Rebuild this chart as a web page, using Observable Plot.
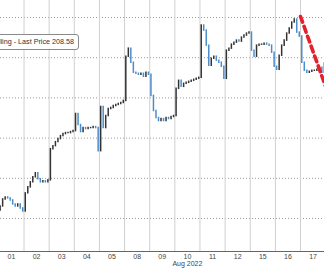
<!DOCTYPE html>
<html><head><meta charset="utf-8">
<script src="https://cdn.jsdelivr.net/npm/d3@7"></script>
<script src="https://cdn.jsdelivr.net/npm/@observablehq/plot@0.6"></script>
<style>
html,body{margin:0;padding:0;background:#fff;}
#wrap{position:relative;width:324px;height:268px;overflow:hidden;}
#label{position:absolute;left:-6px;top:34px;width:85px;height:16px;box-sizing:border-box;border:1px solid #8a8a8a;border-radius:3px;background:#fff;font:7.2px "Liberation Sans",Arial,sans-serif;color:#333;text-align:right;padding-right:4px;line-height:14px;white-space:nowrap;overflow:hidden;}
</style></head>
<body><div id="wrap"><div id="label">lling - Last Price 208.58</div></div>
<script>
// Day labels (Aug 2022 trading days)
const days = ["01","02","03","04","05","08","09","10","11","12","15","16","17"];
const monthLabel = "Aug 2022";

// Closing prices of the intraday bars, 10 per day
const firstOpen = 172.0;
const d01 = [173.0,174.75,175.25,175.0,174.5,173.5,173.0,173.5,172.5,171.75];
const d02 = [176.25,177.75,179.0,180.25,181.25,179.75,179.0,179.25,179.0,179.5];
const d03 = [187.25,188.0,189.0,189.75,190.5,191.0,191.25,191.25,191.5,191.75];
const d04 = [196.0,193.25,191.5,192.5,192.25,192.5,192.5,192.75,192.5,186.75];
const d05 = [197.75,192.5,195.5,197.25,197.5,198.0,198.25,198.5,198.75,199.25];
const d08 = [210.25,212.25,208.75,206.25,206.0,205.75,206.0,205.25,206.25,205.75];
const d09 = [200.5,196.75,195.0,194.25,194.75,194.25,195.0,194.75,195.25,195.5];
const d10 = [202.25,204.25,202.75,203.5,203.75,204.0,204.25,204.5,204.75,205.0];
const d11 = [218.0,216.75,213.0,208.0,209.75,210.25,209.25,208.75,207.75,204.75];
const d12 = [211.75,212.25,213.25,213.75,214.25,214.0,215.0,215.5,216.0,216.25];
const d15 = [211.75,210.25,213.0,213.25,213.25,213.5,213.25,213.0,211.25,207.75];
const d16 = [207.0,210.5,213.0,214.25,216.0,217.25,218.75,219.5,216.25,215.25];
const d17 = [208.75,206.75,206.25,206.5,206.75,206.75,207.0,207.5,206.25,208.58];
const closesByDay = [d01,d02,d03,d04,d05,d08,d09,d10,d11,d12,d15,d16,d17];

// Price gridlines and the red trend line (day-index, price)
const gridPrices = [170,180,190,200,210,220];
const trendT = [12.0, 13.2];
const trendP = [220.25, 199.3];

const bars = [];
let prev = firstOpen;
closesByDay.forEach((arr, d) => {
  arr.forEach((c, i) => {
    bars.push({t: d + (i + 0.5) / arr.length, open: prev, close: c, up: c >= prev});
    prev = c;
  });
});
const trend = trendT.map((t, i) => ({t, p: trendP[i]}));

const chart = Plot.plot({
  width: 324, height: 268,
  marginTop: 0, marginBottom: 17, marginLeft: 0, marginRight: 0,
  style: {fontFamily: "'Liberation Sans', Arial, sans-serif", background: "#fff"},
  x: {domain: [0.065, 12.954], axis: null, label: null},
  y: {domain: [161.79, 224.23], axis: null, label: null},
  marks: [
    Plot.ruleY(gridPrices, {stroke: "#9a9a9a", strokeDasharray: "1,2"}),
    Plot.ruleX(d3.range(1, days.length), {stroke: "#d0d0d0"}),
    Plot.ruleX(bars, {x: "t", y1: "open", y2: "close",
      stroke: d => d.up ? "#333333" : "#4a8dcb", strokeWidth: 1.5,
      strokeLinecap: "square"}),
    Plot.line(trend, {x: "t", y: "p", stroke: "#e3202b", strokeWidth: 3.6,
      strokeDasharray: "6,4.5", clip: true}),
    Plot.frame({anchor: "bottom", stroke: "#666"}),
    Plot.axisX(days.map((_, i) => i + 0.5), {tickFormat: d => days[Math.floor(d)],
      tickSize: 0, tickPadding: 3, fontSize: 7, fill: "#444", label: null}),
    Plot.axisX([7.5], {tickFormat: () => monthLabel, tickSize: 0, tickPadding: 10,
      fontSize: 7, fill: "#444", label: null})
  ]
});
document.getElementById("wrap").prepend(chart);
</script>
</body></html>
